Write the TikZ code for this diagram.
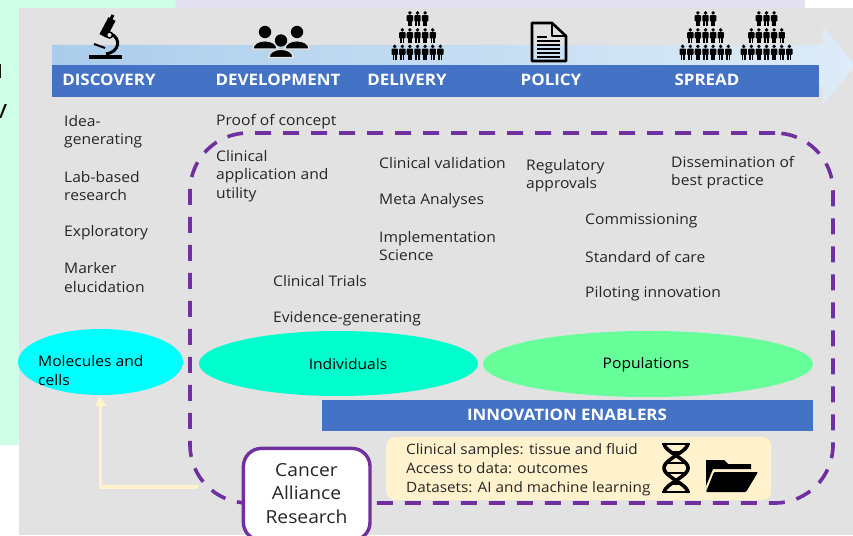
\documentclass[tikz,border=0pt]{standalone}
\usepackage{fontspec}
\setmainfont[FakeStretch=1.07]{Open Sans}
\usetikzlibrary{arrows.meta,shapes.geometric}
\definecolor{mintbg}{RGB}{208,255,232}
\definecolor{lavbg}{RGB}{228,225,241}
\definecolor{greybg}{RGB}{226,226,226}
\definecolor{bandblue}{RGB}{68,114,196}
\definecolor{arrowleft}{RGB}{170,205,235}
\definecolor{arrowright}{RGB}{222,236,248}
\definecolor{zonepurple}{RGB}{112,48,160}
\definecolor{paleyellow}{RGB}{255,242,204}
\definecolor{molcyan}{RGB}{0,255,255}
\definecolor{indgreen}{RGB}{0,255,204}
\definecolor{popgreen}{RGB}{102,255,153}
\definecolor{inktext}{RGB}{38,38,38}
\tikzset{
	txt/.style={anchor=west,align=left,inner sep=0pt,yshift=-1.2pt,text=inktext,font=\fontsize{14.6}{18.5}\selectfont},
	head/.style={inner sep=0pt,text=white,font=\fontsize{15.8}{17}\selectfont\bfseries},
	blob/.style={ellipse,inner sep=0pt},
	band/.style={fill=bandblue,inner sep=0pt,anchor=north west},
	zone/.style={draw=zonepurple,line width=3.6pt,dash pattern=on 16pt off 12pt,rounded corners=58pt,inner sep=0pt,anchor=north west},
	man/.pic={
		\fill (0,-13.6) circle (1.9);
		\fill [rounded corners=0.8pt] (-3.2,-11.4) rectangle (3.2,-5);
		\fill (-2.1,-6) rectangle (-0.3,0);
		\fill (0.3,-6) rectangle (2.1,0);
	},
	crowd/.pic={
		\foreach \i in {-1,0,1} \pic at (\i*7.6,-33.5) {man};
		\foreach \i in {-2,-1,0,1,2} \pic at (\i*7.6,-16.5) {man};
		\foreach \i in {-3,-2,-1,0,1,2,3} \pic at (\i*7.6,0) {man};
	},
	bust/.pic={
		\fill (0,-17) circle (6.2);
		\filldraw [draw=greybg,line width=1.4pt] (-12.2,0) .. controls (-12.2,-11) and (12.2,-11) .. (12.2,0) -- cycle;
	}
}

\begin{document}
\begin{tikzpicture}[x=1pt,y=-1pt]
	\useasboundingbox (0,0) rectangle (853,535);
	\clip (0,0) rectangle (853,535);

	\fill [mintbg] (0,0) rectangle (175,445);
	\fill [lavbg] (175,0) rectangle (805,8);
	\fill [greybg] (19,8) rectangle (853,535);
	\node [inner sep=0pt,font=\fontsize{26}{26}\selectfont,text=black] (cutu) at (-5,72) {u};
	\node [inner sep=0pt,font=\fontsize{26}{26}\selectfont,text=black] (cutv) at (0,112) {v};

	\shade [left color=arrowleft,right color=arrowright] (52,45) -- (823,45) -- (823,27) -- (856,65.5) -- (823,104) -- (823,86) -- (52,86) -- cycle;
	\node [band,minimum width=767pt,minimum height=32pt] (topband) at (52,65) {};
	\node [head] (discovery) at (109,80) {DISCOVERY};
	\node [head] (development) at (278,80) {DEVELOPMENT};
	\node [head] (delivery) at (407,80) {DELIVERY};
	\node [head] (policy) at (551,80) {POLICY};
	\node [head] (spread) at (707,80) {SPREAD};

	\draw [black,line width=3.4pt] (89,57) -- (122,57);
	\draw [black,line width=3pt] (111,34) .. controls (121,38) and (120,52) .. (106,54);
	\draw [black,line width=2pt] (94,44) -- (105,48);
	\draw [black,line width=8pt] (112,19) -- (103,36);
	\draw [black,line width=3pt] (113,15) -- (110,21);
	\draw [black,fill=greybg,line width=1.5pt] (109.5,35) circle (3);

	\pic at (265,49) {bust};
	\pic at (297,49) {bust};
	\pic at (281,57.5) {bust};

	\pic at (417.5,60) {crowd};
	\pic at (705.5,60) {crowd};
	\pic at (766.5,60) {crowd};

	\draw [black,line width=2.6pt,line join=round] (532,23) -- (552,23) -- (566,36) -- (566,61) -- (532,61) -- cycle;
	\draw [black,line width=2.6pt,line join=round] (552,23) -- (552,36) -- (566,36);
	\draw [black,line width=1.5pt] (537,37) -- (547,37);
	\foreach \y in {41,45,49,53,57} \draw [black,line width=1.5pt] (537,\y) -- (560,\y);

	\node [txt] (idea) at (64,130.5) {Idea-\\generating};
	\node [txt] (labbased) at (64,185) {Lab-based\\research};
	\node [txt] (exploratory) at (64,231.5) {Exploratory};
	\node [txt] (marker) at (64,276.5) {Marker\\elucidation};
	\node [txt] (proof) at (216,120) {Proof of concept};
	\node [txt] (application) at (216,175) {Clinical\\application and\\utility};
	\node [txt] (validation) at (379,162) {Clinical validation};
	\node [txt] (meta) at (379,199.5) {Meta Analyses};
	\node [txt] (implementation) at (379,245) {Implementation\\Science};
	\node [txt] (trials) at (273,280) {Clinical Trials};
	\node [txt] (evidence) at (273,318) {Evidence-generating};
	\node [txt] (regulatory) at (526,174.5) {Regulatory\\approvals};
	\node [txt] (dissemination) at (671,171.5) {Dissemination of\\best practice};
	\node [txt] (commissioning) at (585,219.5) {Commissioning};
	\node [txt] (standard) at (585,256) {Standard of care};
	\node [txt] (piloting) at (585,293) {Piloting innovation};

	\node [zone,minimum width=643pt,minimum height=370pt] (zone) at (188.2,131.2) {};

	\node [blob,fill=molcyan,minimum width=165pt,minimum height=66pt] (molecules) at (100.5,362) {};
	\node [txt,text=black] (moleculeslabel) at (38,369.5) {Molecules and\\cells};
	\node [blob,fill=indgreen,minimum width=279pt,minimum height=65pt] (individuals) at (338.5,363.5) {};
	\node [txt,anchor=center,text=black] (individualslabel) at (348,362.5) {Individuals};
	\node [blob,fill=popgreen,minimum width=330pt,minimum height=66pt] (populations) at (648,364) {};
	\node [txt,anchor=center,text=black] (populationslabel) at (646,364) {Populations};

	\node [band,minimum width=491pt,minimum height=31pt] (enablers) at (322,400) {};
	\node [head] (enablerslabel) at (567,414.5) {INNOVATION ENABLERS};

	\node [fill=paleyellow,rounded corners=9pt,inner sep=0pt,minimum width=385pt,minimum height=63pt,anchor=north west] (samples) at (386,437) {};
	\node [txt,font=\fontsize{14.3}{19}\selectfont] (sampleslabel) at (406,469) {Clinical samples: tissue and fluid\\Access to data: outcomes\\Datasets: AI and machine learning};

	\draw [black,line width=3.6pt,domain=0:50,samples=40,smooth] plot ({676+12*cos(\x*7.2)},{443+\x});
	\draw [black,line width=3.6pt,domain=0:50,samples=40,smooth] plot ({676-12*cos(\x*7.2)},{443+\x});
	\foreach \y/\w in {444/14,452/7,463/9,473/9,484/7,492/14} \draw [black,line width=2pt] (676-\w,\y) -- (676+\w,\y);

	\fill [black,line join=round] (706,492) -- (706,460) -- (724,460) -- (728,464) -- (751,464) -- (751,469) -- (713,469) -- (706,486) -- cycle;
	\fill [black,rounded corners=1pt] (714,472) -- (758,472) -- (746,492) -- (706,492) -- cycle;

	\coordinate (armstart) at (198,487);
	\draw [paleyellow,line width=3.6pt,-{Triangle[width=11pt,length=10pt]}] (armstart) -| ([yshift=-1pt]molecules.south);

	\node [draw=zonepurple,fill=white,line width=3.4pt,rounded corners=18pt,inner sep=0pt,minimum width=126.6pt,minimum height=92pt,anchor=north west] (alliance) at (241.7,446.7) {};
	\node [inner sep=0pt,text=inktext,align=center,font=\fontsize{18}{23.7}\selectfont] (alliancelabel) at (306.5,493.5) {Cancer\\Alliance\\Research};
\end{tikzpicture}
\end{document}
